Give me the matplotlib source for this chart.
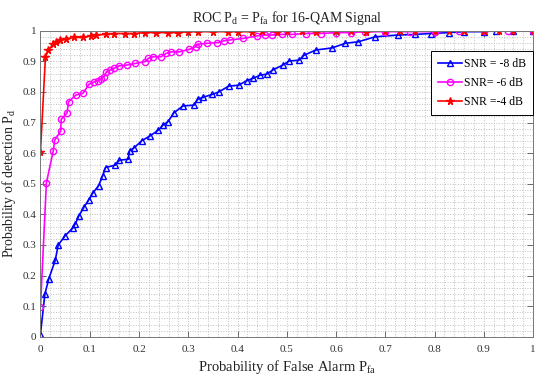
import matplotlib
matplotlib.use("Agg")
import matplotlib.pyplot as plt
from matplotlib.ticker import MultipleLocator

plt.rcParams['font.family'] = ['Liberation Serif', 'DejaVu Serif']
plt.rcParams['mathtext.default'] = 'regular'

# SNR = -8 dB
pf_m8 = [0, 0.009, 0.017, 0.03, 0.036, 0.05, 0.066, 0.071, 0.078, 0.088, 0.098, 0.106,
         0.118, 0.126, 0.132, 0.152, 0.16, 0.178, 0.181, 0.189, 0.206, 0.222, 0.239, 0.249,
         0.259, 0.271, 0.289, 0.312, 0.319, 0.329, 0.349, 0.362, 0.382, 0.402, 0.419,
         0.432, 0.446, 0.459, 0.472, 0.492, 0.505, 0.525, 0.535, 0.559, 0.592, 0.619,
         0.645, 0.679, 0.725, 0.76, 0.792, 0.83, 0.859, 0.9, 0.925, 0.96, 1.0]
pd_m8 = [0.01, 0.14, 0.19, 0.25, 0.30, 0.33, 0.356, 0.37, 0.395, 0.423, 0.447, 0.469,
         0.494, 0.525, 0.553, 0.561, 0.577, 0.58, 0.608, 0.616, 0.641, 0.656, 0.675, 0.692,
         0.703, 0.732, 0.754, 0.757, 0.776, 0.782, 0.792, 0.80, 0.819, 0.822, 0.837,
         0.845, 0.855, 0.858, 0.872, 0.888, 0.901, 0.904, 0.92, 0.937, 0.944, 0.959,
         0.964, 0.98, 0.986, 0.988, 0.991, 0.994, 0.997, 0.997, 1.0, 1.0, 1.0]

# SNR = -6 dB
pf_m6 = [0, 0.012, 0.026, 0.029, 0.041, 0.042, 0.054, 0.057, 0.072, 0.086, 0.099, 0.109,
         0.116, 0.122, 0.129, 0.134, 0.142, 0.149, 0.159, 0.176, 0.192, 0.212, 0.219,
         0.229, 0.245, 0.255, 0.265, 0.282, 0.302, 0.315, 0.319, 0.339, 0.359, 0.372,
         0.385, 0.412, 0.439, 0.455, 0.47, 0.49, 0.51, 0.539, 0.57, 0.6, 0.63, 0.659,
         0.7, 0.75, 0.8, 0.85, 0.9, 0.95, 1.0]
pd_m6 = [0.098, 0.503, 0.608, 0.643, 0.672, 0.71, 0.732, 0.768, 0.79, 0.795, 0.826, 0.833,
         0.837, 0.841, 0.85, 0.866, 0.872, 0.877, 0.885, 0.888, 0.893, 0.899, 0.91,
         0.915, 0.915, 0.926, 0.931, 0.931, 0.939, 0.948, 0.956, 0.959, 0.961, 0.967,
         0.97, 0.975, 0.983, 0.986, 0.986, 0.988, 0.988, 0.991, 0.991, 0.994, 0.994, 0.997,
         0.997, 0.997, 0.997, 1.0, 1.0, 1.0, 1.0]

# SNR = -4 dB
pf_m4 = [0, 0.01, 0.016, 0.026, 0.032, 0.039, 0.052, 0.069, 0.086, 0.102, 0.112, 0.132,
         0.149, 0.172, 0.19, 0.212, 0.235, 0.259, 0.28, 0.3, 0.319, 0.35, 0.38, 0.4, 0.43,
         0.45, 0.48, 0.5, 0.53, 0.56, 0.6, 0.63, 0.66, 0.7, 0.73, 0.76, 0.8, 0.83, 0.86,
         0.9, 0.93, 0.96, 1.0]
pd_m4 = [0.605, 0.913, 0.937, 0.956, 0.964, 0.97, 0.974, 0.978, 0.978, 0.983, 0.986, 0.988,
         0.991, 0.991, 0.991, 0.994, 0.994, 0.994, 0.994, 0.997, 0.997, 0.997, 0.997, 0.997,
         0.997, 1.0, 0.997, 1.0, 1.0, 0.997, 1.0, 1.0, 0.997, 1.0, 1.0, 1.0, 1.0, 1.0, 1.0,
         1.0, 1.0, 1.0, 1.0]

labels = ['SNR = -8 dB', 'SNR= -6 dB', 'SNR =-4 dB']
ticks = [0, 0.1, 0.2, 0.3, 0.4, 0.5, 0.6, 0.7, 0.8, 0.9, 1]
tick_labels = ['0', '0.1', '0.2', '0.3', '0.4', '0.5', '0.6', '0.7', '0.8', '0.9', '1']

fig = plt.figure(figsize=(5.39, 3.75), dpi=100)
ax = fig.add_axes([0.0751, 0.102, 0.914, 0.816])

ax.plot(pf_m8, pd_m8, '-^', color='blue', lw=1.2, ms=4.5, mfc='none', mew=1.0, label=labels[0])
ax.plot(pf_m6, pd_m6, '-o', color='magenta', lw=1.2, ms=4.5, mfc='none', mew=1.0, label=labels[1])
ax.plot(pf_m4, pd_m4, '-*', color='red', lw=1.2, ms=5.5, mew=1.0, label=labels[2])

ax.set_xlim(0, 1)
ax.set_ylim(0, 1)
ax.set_xticks(ticks)
ax.set_xticklabels(tick_labels)
ax.set_yticks(ticks)
ax.set_yticklabels(tick_labels)
ax.xaxis.set_minor_locator(MultipleLocator(0.02))
ax.yaxis.set_minor_locator(MultipleLocator(0.02))
ax.grid(True, which='both', linestyle=':', color='#c0c0c0', linewidth=0.7)
ax.set_axisbelow(True)
ax.tick_params(which='major', direction='in', length=4, width=0.6, color='#555555',
               labelsize=8, top=True, right=True, labelcolor='#333333')
ax.tick_params(axis='x', which='major', pad=6)
ax.tick_params(axis='y', which='major', pad=3)
ax.tick_params(which='minor', length=0, top=True, right=True)
for s in ax.spines.values():
    s.set_color('#777777')
    s.set_linewidth(0.7)

ax.set_title('ROC P$_{d}$ = P$_{fa}$ for 16-QAM Signal', fontsize=10, pad=6, color='#222222')
ax.set_xlabel('Probability of False Alarm P$_{fa}$', fontsize=10.5, labelpad=3, color='#222222')
ax.set_ylabel('Probability of detection P$_{d}$', fontsize=10, labelpad=3, color='#222222')

leg = ax.legend(loc='upper right', bbox_to_anchor=(1.0, 0.935), fontsize=8.5,
                frameon=True, fancybox=False, edgecolor='black', framealpha=1,
                handlelength=2.0, borderpad=0.6, labelspacing=0.6, handletextpad=0.2,
                borderaxespad=0.0)
leg.get_frame().set_linewidth(0.7)

fig.savefig('out.png', dpi=100)
